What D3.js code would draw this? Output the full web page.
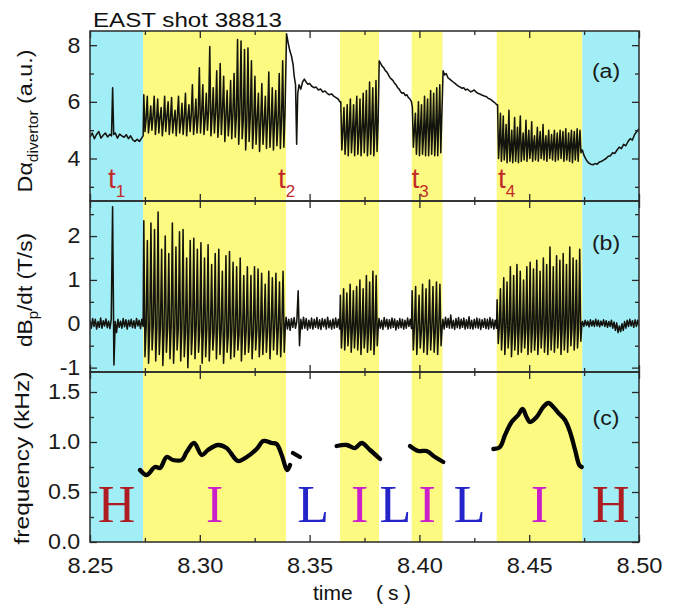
<!DOCTYPE html>
<html>
<head>
<meta charset="utf-8">
<script src="https://cdn.jsdelivr.net/npm/d3@7"></script>
<style>
  html, body { margin: 0; padding: 0; background: #ffffff; }
  svg { display: block; }
</style>
</head>
<body>
<svg id="chart" width="678" height="607"></svg>
<script>
// ---------------- data ----------------
const shotTitle = "EAST shot 38813";

const timeDomain = [8.25, 8.50];
const timeMajorTicks = [8.25, 8.30, 8.35, 8.40, 8.45, 8.50];
const timeMinorTicks = [8.275, 8.325, 8.375, 8.425, 8.475];
const timeTickLabels = ["8.25", "8.30", "8.35", "8.40", "8.45", "8.50"];

// confinement phases: edges in time and the mode of each interval
const phaseEdges = [8.25, 8.2742, 8.3393, 8.3639, 8.3816, 8.3965, 8.4106, 8.4352, 8.4742, 8.50];
const phaseModes = ["H", "I", "L", "I", "L", "I", "L", "I", "H"];

// transition markers t1..t4 (time at which each label starts)
const transitionNames = ["1", "2", "3", "4"];
const transitionLabelTimes = [8.2582, 8.3356, 8.3964, 8.4358];

// panel (a): divertor D-alpha
const dalphaDomain = [2.5, 8.5];
const dalphaMajor = [4, 6, 8];
const dalphaMinor = [3, 5, 7];

const dalphaH1 = [[8.2500,4.75],[8.2510,4.90],[8.2520,4.70],[8.2530,4.85],[8.2540,4.95],[8.2550,4.72],[8.2560,4.82],[8.2570,4.90],[8.2580,4.76],[8.2590,4.85],[8.2598,4.80],[8.2603,6.50],[8.2608,4.85],[8.2615,4.90],[8.2625,4.72],[8.2635,4.86],[8.2645,4.80],[8.2655,4.75],[8.2665,4.84],[8.2675,4.70],[8.2685,4.80],[8.2695,4.66],[8.2705,4.60],[8.2715,4.68],[8.2725,4.60],[8.2735,4.72],[8.2742,4.80]];
const dalphaI1 = {
  start: 8.2745, end: 8.3388,
  hi:  [6.25,6.2,5.85,6.2,6.1,5.8,6.2,6.0,6.15,5.7,6.2,5.95,6.3,5.9,6.6,6.1,7.2,6.6,6.3,7.95,6.5,7.1,7.35,6.9,6.4,6.75,7.0,8.2,8.15,7.85,7.9,7.45,6.9,6.3,6.65,6.2,7.05,6.5,6.4,7.0,7.45],
  lo:  [4.95,4.9,5.0,4.85,4.9,4.8,4.95,4.85,4.9,4.8,4.9,4.85,4.8,4.95,4.85,4.9,4.9,4.85,5.0,4.8,4.9,4.75,4.85,4.6,4.8,4.7,4.75,4.5,4.7,4.3,4.6,4.35,4.5,4.25,4.5,4.35,4.4,4.3,4.45,4.35,4.4],
  mid: [5.4,5.3,5.5,5.35,5.45,5.3,5.5,5.4,5.35,5.5,5.3,5.45,5.4,5.55,5.35,5.5,5.6,5.4,5.7,5.5,5.6,5.45,5.7,5.5,5.4,5.6,5.5,5.65,5.4,5.3,5.5,5.2,5.4,5.3,5.25,5.45,5.2,5.35,5.3,5.4,5.6]
};
const dalphaL1 = [[8.3395,8.40],[8.3402,8.10],[8.3410,7.80],[8.3418,7.60],[8.3425,7.30],[8.3430,6.90],[8.3436,6.60],[8.3441,4.50],[8.3446,6.30],[8.3452,6.60],[8.3460,6.45],[8.3468,6.70],[8.3476,6.80],[8.3484,6.70],[8.3492,6.62],[8.3500,6.65],[8.3510,6.55],[8.3520,6.50],[8.3530,6.52],[8.3540,6.42],[8.3550,6.45],[8.3560,6.35],[8.3570,6.38],[8.3580,6.30],[8.3590,6.25],[8.3600,6.28],[8.3610,6.20],[8.3620,6.15],[8.3630,6.10],[8.3638,6.00]];
const dalphaI2 = {
  start: 8.3642, end: 8.3812,
  hi:  [6.0,5.8,5.9,6.1,5.9,6.2,6.1,6.3,6.4,6.7,6.5,6.75],
  lo:  [4.3,4.15,4.1,4.2,4.1,4.15,4.1,4.2,4.1,4.15,4.1,4.25],
  mid: [5.0,4.8,5.1,4.9,5.2,4.8,5.0,5.1,4.9,5.2,5.0,5.3]
};
const dalphaL2 = [[8.3817,7.45],[8.3824,7.35],[8.3831,7.25],[8.3838,7.20],[8.3845,7.10],[8.3852,7.05],[8.3859,6.95],[8.3866,6.85],[8.3873,6.80],[8.3880,6.75],[8.3887,6.65],[8.3894,6.60],[8.3901,6.50],[8.3908,6.45],[8.3915,6.35],[8.3922,6.30],[8.3929,6.32],[8.3936,6.22],[8.3943,6.25],[8.3950,6.15],[8.3957,6.10],[8.3964,6.00]];
const dalphaI3 = {
  start: 8.3968, end: 8.4102,
  hi:  [5.8,5.6,6.0,5.9,6.2,6.1,6.4,6.3,6.5,6.6],
  lo:  [4.4,4.15,4.1,4.15,4.1,4.1,4.15,4.1,4.1,4.2],
  mid: [5.0,4.9,5.1,4.8,5.2,5.0,5.1,4.9,5.3,5.5]
};
const dalphaL3 = [[8.4108,7.10],[8.4115,6.95],[8.4122,7.00],[8.4130,6.85],[8.4138,6.80],[8.4146,6.75],[8.4154,6.70],[8.4162,6.65],[8.4170,6.60],[8.4178,6.55],[8.4186,6.52],[8.4194,6.48],[8.4202,6.50],[8.4210,6.42],[8.4218,6.45],[8.4226,6.40],[8.4234,6.35],[8.4242,6.38],[8.4250,6.42],[8.4258,6.35],[8.4266,6.30],[8.4274,6.28],[8.4282,6.25],[8.4290,6.22],[8.4298,6.20],[8.4306,6.18],[8.4314,6.12],[8.4322,6.10],[8.4330,6.05],[8.4338,6.00],[8.4346,5.95],[8.4352,5.90]];
const dalphaI4 = {
  start: 8.4356, end: 8.4740,
  hi:  [5.9,5.6,5.5,5.2,5.7,5.0,5.45,5.1,5.5,4.9,5.35,5.0,5.3,4.8,5.1,4.95,5.2,4.8,5.0,4.85,5.0,4.9,5.0,4.95,5.05,4.9,5.0,4.95,5.05,5.0],
  lo:  [4.0,3.9,3.95,3.85,3.9,3.85,3.9,3.85,3.9,3.95,3.9,4.0,3.9,3.95,3.9,4.0,3.95,3.9,4.0,3.95,3.9,3.95,4.0,3.9,3.95,3.9,3.85,3.95,3.9,4.2],
  mid: [4.6,4.5,4.4,4.6,4.3,4.5,4.4,4.6,4.35,4.5,4.45,4.3,4.5,4.4,4.55,4.3,4.45,4.5,4.35,4.5,4.4,4.45,4.5,4.4,4.35,4.5,4.45,4.4,4.5,4.3]
};
const dalphaH2 = [[8.4742,4.30],[8.4750,4.10],[8.4760,3.95],[8.4770,3.85],[8.4780,3.80],[8.4790,3.78],[8.4800,3.82],[8.4810,3.80],[8.4820,3.88],[8.4830,3.90],[8.4840,3.95],[8.4850,4.00],[8.4860,4.08],[8.4870,4.10],[8.4880,4.20],[8.4890,4.18],[8.4900,4.30],[8.4910,4.40],[8.4920,4.35],[8.4930,4.50],[8.4940,4.45],[8.4950,4.60],[8.4960,4.70],[8.4970,4.65],[8.4980,4.85],[8.4990,4.95],[8.5000,5.05]];

// panel (b): magnetic probe dBp/dt, evenly sampled between start and end
const dbdtDomain = [-1.1, 2.8];
const dbdtMajor = [-1, 0, 1, 2];
const dbdtMinor = [-0.5, 0.5, 1.5, 2.5];

const dbdtH1 = { start: 8.2500, end: 8.2742, v: [0.08,-0.1,0.12,-0.06,0.1,-0.12,0.05,-0.08,0.13,-0.1,0.07,-0.05,0.11,-0.09,0.06,-0.11,0.1,2.67,-0.94,0.05,-0.2,0.1,-0.08,0.06,-0.1,0.12,-0.07,0.09,-0.12,0.08,-0.06,0.1,-0.09,0.07,-0.1,0.12,-0.05,0.08,-0.11,0.1,-0.06] };
const dbdtI1 = {
  start: 8.2745, end: 8.3390,
  hi:  [2.35,1.9,2.3,2.15,2.55,1.7,2.0,1.6,2.3,1.75,2.1,2.15,1.5,1.9,1.95,1.7,1.85,1.5,1.8,1.35,1.6,1.7,1.2,1.55,1.65,1.4,1.3,1.5,1.1,1.3,1.1,1.3,1.25,1.15,0.9,1.2,1.05,1.15,0.95,1.2],
  lo:  [-0.75,-0.9,-0.6,-0.85,-0.7,-0.95,-0.65,-0.8,-0.9,-0.6,-0.85,-0.75,-1.0,-0.7,-0.8,-0.65,-0.9,-0.75,-0.85,-0.6,-0.8,-0.7,-0.9,-0.65,-0.8,-0.75,-0.6,-0.85,-0.7,-0.65,-0.8,-0.6,-0.75,-0.7,-0.65,-0.8,-0.6,-0.7,-0.75,-0.65],
  mid: [-0.05,-0.1,0,-0.1,-0.05,-0.15,-0.1,-0.05,-0.15,-0.1,-0.1,-0.2,-0.1,-0.15,-0.05,-0.15,-0.2,-0.1,-0.15,-0.2,-0.1,-0.15,-0.2,-0.25,-0.15,-0.2,-0.25,-0.2,-0.15,-0.25,-0.2,-0.15,-0.2,-0.1,-0.15,-0.1,-0.05,-0.1,-0.05,0]
};
const dbdtL1 = { start: 8.3393, end: 8.3637, v: [0.15,-0.12,0.1,-0.15,0.12,-0.08,0.14,-0.1,0.05,0.75,-0.5,0.1,-0.12,0.15,-0.1,0.12,-0.14,0.08,-0.1,0.13,-0.12,0.1,-0.08,0.14,-0.11,0.09,-0.13,0.12,-0.07,0.1,-0.12,0.15,-0.09,0.08,-0.12,0.11,-0.1,0.13,-0.08,0.1,-0.12] };
const dbdtI2 = {
  start: 8.3640, end: 8.3813,
  hi:  [0.65,0.8,0.7,0.9,0.75,0.85,1.0,0.8,1.1,0.95,1.2,1.1],
  lo:  [-0.55,-0.6,-0.5,-0.65,-0.55,-0.6,-0.7,-0.55,-0.65,-0.6,-0.7,-0.5],
  mid: [-0.05,-0.1,-0.1,-0.15,-0.1,-0.15,-0.1,-0.2,-0.15,-0.1,-0.15,-0.05]
};
const dbdtL2 = { start: 8.3816, end: 8.3964, v: [0.12,-0.1,0.08,-0.13,0.14,-0.07,0.1,-0.12,0.09,-0.1,0.13,-0.08,0.11,-0.14,0.07,-0.1,0.12,-0.09,0.1,-0.12,0.08,-0.1,0.13,-0.06,0.1,-0.11] };
const dbdtI3 = {
  start: 8.3967, end: 8.4104,
  hi:  [0.75,0.85,0.65,0.9,0.8,1.0,0.85,0.95,0.9],
  lo:  [-0.6,-0.7,-0.55,-0.65,-0.7,-0.6,-0.65,-0.7,-0.5],
  mid: [-0.05,-0.1,-0.15,-0.1,-0.15,-0.1,-0.15,-0.1,-0.05]
};
const dbdtL3 = { start: 8.4107, end: 8.4351, v: [0.1,-0.12,0.15,-0.08,0.12,-0.1,0.2,-0.1,0.08,-0.13,0.12,-0.09,0.14,-0.11,0.1,-0.08,0.13,-0.12,0.09,-0.1,0.16,-0.11,0.08,-0.12,0.1,-0.09,0.13,-0.1,0.11,-0.13,0.09,-0.08,0.12,-0.11,0.1,-0.12,0.14,-0.09,0.1,-0.12,0.08,-0.1] };
const dbdtI4 = {
  start: 8.4354, end: 8.4740,
  hi:  [0.55,0.8,1.05,0.95,1.3,1.1,1.35,1.2,1.0,1.3,1.4,1.25,1.45,1.2,1.5,1.35,1.75,1.3,1.55,1.45,1.6,1.35,1.75,1.5,1.45,1.7],
  lo:  [-0.45,-0.6,-0.7,-0.55,-0.75,-0.6,-0.7,-0.65,-0.55,-0.7,-0.65,-0.6,-0.7,-0.55,-0.65,-0.7,-0.6,-0.65,-0.55,-0.7,-0.6,-0.65,-0.5,-0.6,-0.55,-0.4],
  mid: [-0.05,-0.1,-0.1,-0.15,-0.2,-0.15,-0.1,-0.2,-0.15,-0.1,-0.15,-0.2,-0.15,-0.1,-0.2,-0.15,-0.1,-0.15,-0.1,-0.15,-0.1,-0.05,-0.1,-0.05,-0.1,0]
};
const dbdtH2 = { start: 8.4743, end: 8.5000, v: [0.05,-0.06,0.08,-0.04,0.06,-0.07,0.09,-0.05,0.07,-0.06,0.1,-0.05,0.08,-0.07,0.06,-0.04,0.09,-0.06,0.07,-0.08,0.05,-0.06,0.08,-0.1,0.04,-0.15,0.02,-0.2,-0.05,-0.18,0.0,-0.15,0.05,-0.1,0.08,-0.06,0.1,-0.05,0.07,-0.08,0.09,-0.06,0.08,-0.05] };

// panel (c): oscillation frequency in kHz, one array per continuous stretch
const freqDomain = [0, 1.7];
const freqMajor = [0, 0.5, 1.0, 1.5];
const freqMinor = [0.25, 0.75, 1.25];

const freqSeg1 = [[8.2728,0.72],[8.2758,0.67],[8.2796,0.75],[8.2819,0.74],[8.2849,0.85],[8.2878,0.82],[8.2918,0.82],[8.2940,0.90],[8.2974,0.99],[8.3009,0.87],[8.3037,0.92],[8.3083,0.97],[8.3122,0.94],[8.3174,0.81],[8.3214,0.85],[8.3259,0.93],[8.3289,1.01],[8.3327,0.99],[8.3350,0.98],[8.3373,0.87],[8.3398,0.72],[8.3411,0.77]];
const freqSeg2 = [[8.3424,0.89],[8.3456,0.85]];
const freqSeg3 = [[8.3623,0.96],[8.3669,0.97],[8.3707,0.94],[8.3737,0.99],[8.3775,0.92],[8.3821,0.83]];
const freqSeg4 = [[8.3957,0.96],[8.3995,0.91],[8.4033,0.91],[8.4071,0.85],[8.4109,0.80]];
const freqSeg5 = [[8.4337,0.93],[8.4367,0.95],[8.4390,1.07],[8.4420,1.20],[8.4450,1.27],[8.4470,1.33],[8.4488,1.25],[8.4504,1.20],[8.4534,1.25],[8.4564,1.35],[8.4587,1.39],[8.4610,1.35],[8.4633,1.29],[8.4663,1.22],[8.4686,1.10],[8.4709,0.92],[8.4728,0.77],[8.4739,0.75]];

// ---------------- drawing ----------------
const SANS = '"Liberation Sans", Arial, Helvetica, sans-serif';
const SERIF = '"Liberation Serif", "Times New Roman", serif';
const INK = "#14140e";
const FRAME = "#2a2a2a";
const modeFill = { H: "#a2eef6", I: "#fcfa80", L: "#ffffff" };
const modeInk = { H: "#ad1d22", I: "#cc1fcc", L: "#2424c8" };

const svg = d3.select("#chart");
const plotLeft = 90, plotRight = 639;
const x = d3.scaleLinear().domain(timeDomain).range([plotLeft, plotRight]);

// turn segments (explicit pairs, evenly sampled values, or burst cycles) into one trace
function traceFrom(segments) {
  const pts = [];
  segments.forEach(s => {
    if (Array.isArray(s)) { s.forEach(p => pts.push(p)); return; }
    let vals = s.v;
    if (!vals) {
      vals = [];
      s.hi.forEach((h, i) => {
        vals.push(h);
        if (s.lo && i < s.lo.length) vals.push(s.lo[i]);
        if (s.mid && i < s.mid.length) vals.push(s.mid[i]);
      });
    }
    const n = vals.length;
    vals.forEach((v, i) => pts.push([s.start + (s.end - s.start) * (n > 1 ? i / (n - 1) : 0), v]));
  });
  return pts;
}

const panels = [
  { key: "a", top: 31, bottom: 201, domain: dalphaDomain, major: dalphaMajor, minor: dalphaMinor,
    fmt: d => String(d), tag: "(a)", tagY: 78,
    traces: [traceFrom([dalphaH1, dalphaI1, dalphaL1, dalphaI2, dalphaL2, dalphaI3, dalphaL3, dalphaI4, dalphaH2])] },
  { key: "b", top: 201, bottom: 372, domain: dbdtDomain, major: dbdtMajor, minor: dbdtMinor,
    fmt: d => String(d), tag: "(b)", tagY: 250,
    traces: [traceFrom([dbdtH1, dbdtI1, dbdtL1, dbdtI2, dbdtL2, dbdtI3, dbdtL3, dbdtI4, dbdtH2])] },
  { key: "c", top: 372, bottom: 542, domain: freqDomain, major: freqMajor, minor: freqMinor,
    fmt: d3.format(".1f"), tag: "(c)", tagY: 425,
    freq: [freqSeg1, freqSeg2, freqSeg3, freqSeg4, freqSeg5] }
];

const plotTop = panels[0].top, plotBottom = panels[2].bottom;

// phase shading across all three panels
const phases = phaseModes.map((m, i) => ({ mode: m, t0: phaseEdges[i], t1: phaseEdges[i + 1] }));
svg.append("g").selectAll("rect").data(phases).join("rect")
  .attr("x", d => x(d.t0)).attr("width", d => x(d.t1) - x(d.t0))
  .attr("y", plotTop).attr("height", plotBottom - plotTop)
  .attr("fill", d => modeFill[d.mode]);

function styleAxis(g) {
  g.select(".domain").remove();
  g.selectAll(".tick line").attr("stroke", FRAME).attr("stroke-width", 1.3);
  g.attr("font-family", SANS).attr("font-size", 21.5).attr("fill", "#1a1a1a");
  g.selectAll(".tick text").attr("fill", "#1a1a1a");
}

panels.forEach(p => {
  const y = d3.scaleLinear().domain(p.domain).range([p.bottom, p.top]);
  const clipId = "clip-" + p.key;
  svg.append("clipPath").attr("id", clipId).append("rect")
    .attr("x", plotLeft).attr("y", p.top).attr("width", plotRight - plotLeft).attr("height", p.bottom - p.top);

  const layer = svg.append("g").attr("clip-path", `url(#${clipId})`);
  if (p.traces) {
    const line = d3.line().x(d => x(d[0])).y(d => y(d[1]));
    layer.selectAll("path.trace").data(p.traces).join("path").attr("class", "trace")
      .attr("d", line).attr("fill", "none").attr("stroke", INK)
      .attr("stroke-width", 1.55).attr("stroke-linejoin", "round");
  }
  if (p.freq) {
    const line = d3.line().x(d => x(d[0])).y(d => y(d[1])).curve(d3.curveCatmullRom.alpha(0.5));
    layer.selectAll("path.freq").data(p.freq).join("path").attr("class", "freq")
      .attr("d", line).attr("fill", "none").attr("stroke", "#050505")
      .attr("stroke-width", 4.3).attr("stroke-linecap", "round").attr("stroke-linejoin", "round");
  }

  // frame
  svg.append("rect").attr("x", plotLeft).attr("y", p.top)
    .attr("width", plotRight - plotLeft).attr("height", p.bottom - p.top)
    .attr("fill", "none").attr("stroke", FRAME).attr("stroke-width", 1.5);

  // left: labelled majors + minors, all pointing inward
  svg.append("g").attr("transform", `translate(${plotLeft},0)`)
    .call(d3.axisLeft(y).tickValues(p.major).tickFormat(p.fmt).tickSizeInner(-7).tickSizeOuter(0).tickPadding(9))
    .call(styleAxis)
    .call(g => g.selectAll(".tick text").attr("transform", "scale(1.08,1)"));
  svg.append("g").attr("transform", `translate(${plotLeft},0)`)
    .call(d3.axisLeft(y).tickValues(p.minor).tickFormat(() => "").tickSizeInner(-4).tickSizeOuter(0))
    .call(styleAxis);
  // right mirror ticks
  svg.append("g").attr("transform", `translate(${plotRight},0)`)
    .call(d3.axisRight(y).tickValues(p.major).tickFormat(() => "").tickSizeInner(-7).tickSizeOuter(0))
    .call(styleAxis);
  svg.append("g").attr("transform", `translate(${plotRight},0)`)
    .call(d3.axisRight(y).tickValues(p.minor).tickFormat(() => "").tickSizeInner(-4).tickSizeOuter(0))
    .call(styleAxis);
  // time ticks on top and bottom edges of every panel
  svg.append("g").attr("transform", `translate(0,${p.top})`)
    .call(d3.axisTop(x).tickValues(timeMajorTicks).tickFormat(() => "").tickSizeInner(-7).tickSizeOuter(0))
    .call(styleAxis);
  svg.append("g").attr("transform", `translate(0,${p.top})`)
    .call(d3.axisTop(x).tickValues(timeMinorTicks).tickFormat(() => "").tickSizeInner(-4).tickSizeOuter(0))
    .call(styleAxis);
  const isLast = p.key === "c";
  svg.append("g").attr("transform", `translate(0,${p.bottom})`)
    .call(d3.axisBottom(x).tickValues(timeMajorTicks)
      .tickFormat(isLast ? ((d, i) => timeTickLabels[i]) : (() => ""))
      .tickSizeInner(-7).tickSizeOuter(0).tickPadding(16))
    .call(styleAxis)
    .call(g => g.selectAll(".tick text").attr("transform", "scale(1.1,1)"));
  svg.append("g").attr("transform", `translate(0,${p.bottom})`)
    .call(d3.axisBottom(x).tickValues(timeMinorTicks).tickFormat(() => "").tickSizeInner(-4).tickSizeOuter(0))
    .call(styleAxis);

  // panel tag
  svg.append("text").attr("x", 606).attr("y", p.tagY)
    .attr("text-anchor", "middle").attr("font-family", SANS).attr("font-size", 21)
    .attr("fill", "#1a1a1a").attr("transform", `translate(606,0) scale(1.1,1) translate(-606,0)`)
    .text(p.tag);
});

// stretch a text horizontally (in its own frame) to a given length
function fitLength(sel, target) {
  const len = sel.node().getComputedTextLength();
  return len > 0 ? target / len : 1;
}

// title
const title = svg.append("text").attr("font-family", SANS).attr("font-size", 20.5)
  .attr("fill", "#111").text(shotTitle);
const titleK = fitLength(title, 189);
title.attr("transform", `translate(93,27) scale(${titleK},1)`);

// rotated axis titles
function yTitle(bx, cy, target, build) {
  const t = svg.append("text").attr("font-family", SANS).attr("font-size", 21)
    .attr("fill", "#111").attr("text-anchor", "middle");
  build(t);
  const k = fitLength(t, target);
  t.attr("transform", `translate(${bx},${cy}) rotate(-90) scale(${k},1)`);
}
yTitle(32, 121, 143, t => {
  t.append("tspan").text("D\u03b1");
  t.append("tspan").attr("font-size", 14).attr("dy", 6).text("divertor");
  t.append("tspan").attr("dy", -6).text(" (a.u.)");
});
yTitle(32, 290, 114, t => {
  t.append("tspan").text("dB");
  t.append("tspan").attr("font-size", 14).attr("dy", 6).text("p");
  t.append("tspan").attr("dy", -6).text("/dt (T/s)");
});
yTitle(29, 458, 173, t => t.text("frequency (kHz)"));

// x-axis title
const xTitle = svg.append("text").attr("y", 600)
  .attr("font-family", SANS).attr("font-size", 21).attr("fill", "#111");
xTitle.append("tspan").attr("x", 313).text("time");
xTitle.append("tspan").attr("x", 376).text("(");
xTitle.append("tspan").attr("x", 388).text("s");
xTitle.append("tspan").attr("x", 404).text(")");

// transition labels t1..t4 in panel (a)
const tLabels = svg.append("g").attr("font-family", SANS).attr("fill", "#c22a2a");
transitionNames.forEach((name, i) => {
  const t = tLabels.append("text").attr("x", x(transitionLabelTimes[i])).attr("y", 188).attr("font-size", 28);
  t.append("tspan").text("t");
  t.append("tspan").attr("font-size", 17).attr("dy", 9).text(name);
});

// mode letters in panel (c)
svg.append("g").selectAll("text").data(phases).join("text")
  .attr("x", d => x((d.t0 + d.t1) / 2)).attr("y", 522)
  .attr("text-anchor", "middle").attr("font-family", SERIF).attr("font-size", 52)
  .attr("fill", d => modeInk[d.mode]).text(d => d.mode);
</script>
</body>
</html>
